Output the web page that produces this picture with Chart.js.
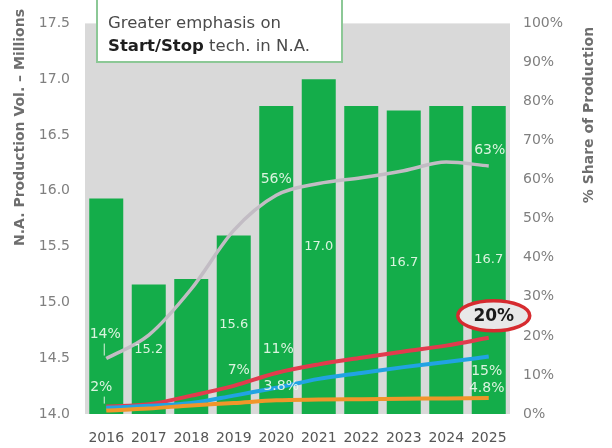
<!DOCTYPE html>
<html>
<head>
<meta charset="utf-8">
<title>N.A. Start/Stop production</title>
<script src="https://cdn.jsdelivr.net/npm/chart.js@4.4.1/dist/chart.umd.min.js"></script>
<style>
    html, body { margin: 0; padding: 0; background: #ffffff; }
    canvas { display: block; }
</style>
</head>
<body>
<canvas id="chart" width="612" height="448"></canvas>
<script>
// values
const years = ['2016', '2017', '2018', '2019', '2020', '2021', '2022', '2023', '2024', '2025'];
const productionVol = [15.93, 15.16, 15.21, 15.6, 16.76, 17.0, 16.76, 16.72, 16.76, 16.76];
const volumeLabels = [null, '15.2', null, '15.6', null, '17.0', null, '16.7', null, '16.7'];

const shareGrey = [14.2, 20.2, 32, 47, 56, 59, 60.5, 62.3, 64.5, 63.5];
const shareRed = [1.9, 2.5, 4.7, 7.2, 10.5, 12.7, 14.4, 16, 17.5, 19.5];
const shareBlue = [1.6, 2.1, 2.8, 4.7, 6.7, 9, 10.5, 12, 13.3, 14.7];
const shareOrange = [0.9, 1.4, 2.2, 2.8, 3.5, 3.7, 3.8, 3.9, 4, 4.1];

const volTicks = [14.0, 14.5, 15.0, 15.5, 16.0, 16.5, 17.0, 17.5];
const shareTicks = [0, 10, 20, 30, 40, 50, 60, 70, 80, 90, 100];

const FONT = '"DejaVu Sans", Verdana, sans-serif';

// grey plot background
const plotBackground = {
    id: 'plotBackground',
    beforeDraw(chart) {
        const { ctx, chartArea: a } = chart;
        ctx.save();
        ctx.fillStyle = '#d9d9d9';
        ctx.fillRect(a.left, a.top, a.right - a.left, a.bottom - a.top);
        ctx.restore();
    }
};

// value labels, axis titles and the note box
const annotations = {
    id: 'annotations',
    afterDraw(chart) {
        const { ctx, scales } = chart;
        const x = scales.x, yv = scales.y, ys = scales.y1;
        const light = 'rgba(236, 250, 236, 0.92)';

        ctx.save();
        ctx.textAlign = 'center';
        ctx.textBaseline = 'middle';

        // bar labels in the middle of the bar
        ctx.font = '13px ' + FONT;
        ctx.fillStyle = light;
        volumeLabels.forEach((txt, i) => {
            if (!txt) return;
            const top = yv.getPixelForValue(productionVol[i]);
            ctx.fillText(txt, x.getPixelForValue(i), (top + yv.bottom) / 2);
        });

        // share labels: [text, series, index, dx, dy]
        const shareLabels = [
            ['14%', shareGrey, 0, -1, -24],
            ['2%', shareRed, 0, -5, -19],
            ['7%', shareRed, 3, 5, -16],
            ['11%', shareRed, 4, 2, -24],
            ['3.8%', shareBlue, 4, 5, -1],
            ['56%', shareGrey, 4, 0, -16],
            ['63%', shareGrey, 9, 1, -16],
            ['15%', shareBlue, 9, -2, 15],
            ['4.8%', shareOrange, 9, -2, -10]
        ];
        ctx.font = '14px ' + FONT;
        shareLabels.forEach(([txt, series, i, dx, dy]) => {
            const px = x.getPixelForValue(i) + dx;
            const py = ys.getPixelForValue(series[i]) + dy;
            ctx.fillText(txt, px, py);
        });

        // small leader lines under 14% and 2%
        ctx.strokeStyle = light;
        ctx.lineWidth = 1;
        [[shareGrey, 0, -24], [shareRed, 0, -19]].forEach(([series, i, dy]) => {
            const px = x.getPixelForValue(i) - 2;
            const py = ys.getPixelForValue(series[i]);
            ctx.beginPath();
            ctx.moveTo(px, py + dy + 9);
            ctx.lineTo(px, py - 3);
            ctx.stroke();
        });

        // circled 20%
        const ex = x.getPixelForValue(9) + 5;
        const ey = ys.getPixelForValue(shareRed[9]) - 22;
        ctx.beginPath();
        ctx.ellipse(ex, ey, 36, 15, 0, 0, Math.PI * 2);
        ctx.fillStyle = '#e8e8e8';
        ctx.fill();
        ctx.lineWidth = 3.5;
        ctx.strokeStyle = '#d62b2f';
        ctx.stroke();
        ctx.fillStyle = '#1a1a1a';
        ctx.font = 'bold 17px ' + FONT;
        ctx.fillText('20%', ex, ey + 1);

        // note box, its top edge runs off the canvas
        ctx.fillStyle = '#ffffff';
        ctx.fillRect(97, -4, 245, 66);
        ctx.strokeStyle = '#8cc896';
        ctx.lineWidth = 2;
        ctx.strokeRect(97, -4, 245, 66);
        ctx.textAlign = 'left';
        ctx.font = '16.5px ' + FONT;
        ctx.fillStyle = '#4a4a4a';
        ctx.fillText('Greater emphasis on', 108, 24);
        ctx.font = 'bold 16.5px ' + FONT;
        ctx.fillStyle = '#1e1e1e';
        ctx.fillText('Start/Stop', 108, 47);
        const w = ctx.measureText('Start/Stop').width;
        ctx.font = '16.5px ' + FONT;
        ctx.fillStyle = '#4a4a4a';
        ctx.fillText(' tech. in N.A.', 108 + w, 47);

        // axis titles, both read bottom to top
        ctx.font = 'bold 14px ' + FONT;
        ctx.fillStyle = '#6e6e6e';
        ctx.save();
        ctx.translate(20, 9);
        ctx.rotate(-Math.PI / 2);
        ctx.textAlign = 'right';
        ctx.fillText('N.A. Production Vol. \u2013 Millions', 0, 0);
        ctx.restore();

        ctx.save();
        ctx.translate(589, 115);
        ctx.rotate(-Math.PI / 2);
        ctx.textAlign = 'center';
        ctx.fillText('% Share of Production', 0, 0);
        ctx.restore();

        ctx.restore();
    }
};

function lineSet(data, color, width) {
    return {
        type: 'line',
        data: data,
        yAxisID: 'y1',
        borderColor: color,
        borderWidth: width,
        pointRadius: 0,
        tension: 0.35,
        cubicInterpolationMode: 'monotone',
        order: 1
    };
}

new Chart(document.getElementById('chart'), {
    type: 'bar',
    data: {
        labels: years,
        datasets: [
            lineSet(shareOrange, '#f0962a', 4),
            lineSet(shareBlue, '#21a3e3', 4),
            lineSet(shareRed, '#e23b4d', 4),
            lineSet(shareGrey, '#c2bcc4', 3.5),
            {
                type: 'bar',
                data: productionVol,
                yAxisID: 'y',
                backgroundColor: '#14ad4a',
                barPercentage: 0.8,
                categoryPercentage: 1,
                order: 10
            }
        ]
    },
    options: {
        responsive: false,
        animation: false,
        layout: { padding: { top: 12, left: 0, right: 0, bottom: 0 } },
        plugins: {
            legend: { display: false },
            tooltip: { enabled: false }
        },
        scales: {
            x: {
                offset: true,
                grid: { display: false, drawTicks: false },
                border: { display: false },
                ticks: { color: '#555555', font: { family: FONT, size: 14 }, padding: 16 },
                afterFit(s) { s.height = 34; }
            },
            y: {
                position: 'left',
                min: 14,
                max: 17.5,
                afterBuildTicks(s) { s.ticks = volTicks.map(v => ({ value: v })); },
                grid: { display: false, drawTicks: false },
                border: { display: false },
                ticks: {
                    color: '#7f7f7f',
                    font: { family: FONT, size: 14 },
                    padding: 15,
                    callback: v => v.toFixed(1)
                },
                afterFit(s) { s.width = 85; }
            },
            y1: {
                position: 'right',
                min: 0,
                max: 100,
                afterBuildTicks(s) { s.ticks = shareTicks.map(v => ({ value: v })); },
                grid: { display: false, drawTicks: false },
                border: { display: false },
                ticks: {
                    color: '#7f7f7f',
                    font: { family: FONT, size: 14 },
                    padding: 13,
                    callback: v => v + '%'
                },
                afterFit(s) { s.width = 102; }
            }
        }
    },
    plugins: [plotBackground, annotations]
});
</script>
</body>
</html>
